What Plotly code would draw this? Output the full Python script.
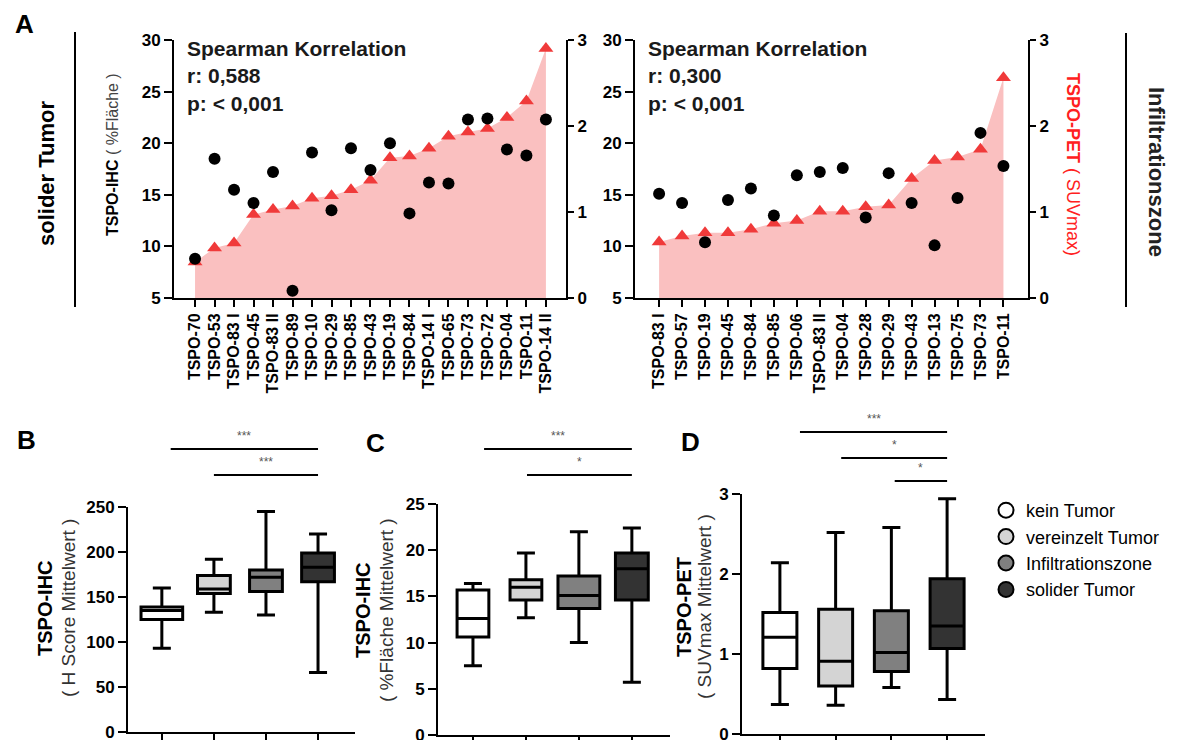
import plotly.graph_objects as go

W, H = 1178, 740
FONT = "Liberation Sans, Arial, sans-serif"

# ---------------- Panel A data ----------------
solid_labels = ["TSPO-70", "TSPO-53", "TSPO-83 I", "TSPO-45", "TSPO-83 II", "TSPO-89", "TSPO-10",
                "TSPO-29", "TSPO-85", "TSPO-43", "TSPO-19", "TSPO-84", "TSPO-14 I", "TSPO-65",
                "TSPO-73", "TSPO-72", "TSPO-04", "TSPO-11", "TSPO-14 II"]
solid_ihc = [8.8, 18.5, 15.5, 14.2, 17.2, 5.7, 19.1, 13.5, 19.5, 17.4, 20.0, 13.2, 16.2, 16.1,
             22.3, 22.4, 19.4, 18.8, 22.3]
solid_pet = [0.42, 0.58, 0.64, 0.97, 1.03, 1.07, 1.16, 1.19, 1.26, 1.37, 1.63, 1.65, 1.74, 1.88,
             1.93, 1.97, 2.10, 2.29, 2.90]

infil_labels = ["TSPO-83 I", "TSPO-57", "TSPO-19", "TSPO-45", "TSPO-84", "TSPO-85", "TSPO-06",
                "TSPO-83 II", "TSPO-04", "TSPO-28", "TSPO-29", "TSPO-43", "TSPO-13", "TSPO-75",
                "TSPO-73", "TSPO-11"]
infil_ihc = [15.1, 14.2, 10.4, 14.5, 15.6, 13.0, 16.9, 17.2, 17.6, 12.8, 17.1, 14.2, 10.1, 14.7,
             21.0, 17.8]
infil_pet = [0.65, 0.72, 0.76, 0.76, 0.80, 0.87, 0.90, 1.01, 1.01, 1.06, 1.08, 1.39, 1.60, 1.64,
             1.73, 2.56]

spearman_solid = ["Spearman Korrelation", "r: 0,588", "p: &lt; 0,001"]
spearman_infil = ["Spearman Korrelation", "r: 0,300", "p: &lt; 0,001"]

# ---------------- Panels B-D data ----------------
groups = ["kein Tumor", "vereinzelt Tumor", "Infiltrationszone", "solider Tumor"]
group_colors = ["#ffffff", "#d4d4d4", "#808080", "#333333"]

B_q1 = [125, 154, 156, 167]
B_med = [135, 159, 172, 183]
B_q3 = [139, 174, 180, 199]
B_low = [93, 133, 130, 66]
B_high = [160, 192, 245, 220]

C_q1 = [10.6, 14.6, 13.7, 14.6]
C_med = [12.6, 16.0, 15.1, 18.0]
C_q3 = [15.7, 16.8, 17.2, 19.7]
C_low = [7.5, 12.7, 10.0, 5.7]
C_high = [16.4, 19.7, 22.0, 22.4]

D_q1 = [0.82, 0.60, 0.78, 1.07]
D_med = [1.21, 0.91, 1.02, 1.35]
D_q3 = [1.52, 1.56, 1.54, 1.94]
D_low = [0.37, 0.36, 0.58, 0.43]
D_high = [2.14, 2.52, 2.58, 2.94]

# significance comparisons: (start group, end group, label)
B_sig = [(0.17, 3, "***"), (1.0, 3, "***")]
C_sig = [(0.21, 3, "***"), (1.02, 3, "*")]
D_sig = [(0.36, 3, "***"), (1.1, 3, "*"), (2.06, 3, "*")]


def px(x):
    return x / W


def py(y):
    return 1 - y / H


fig = go.Figure()

# ---- Panel A left (base axis y = PET, right side; overlay y2 = IHC, left side)
fig.add_trace(go.Scatter(x=solid_labels, y=solid_pet, mode="lines", fill="tozeroy",
                         line=dict(color="#fac0c0", width=0), fillcolor="#fac0c0",
                         xaxis="x", yaxis="y", showlegend=False, hoverinfo="skip"))
fig.add_trace(go.Scatter(x=solid_labels, y=solid_pet, mode="markers",
                         marker=dict(symbol="triangle-up", size=13, color="#f03a3a"),
                         xaxis="x", yaxis="y", showlegend=False))
fig.add_trace(go.Scatter(x=solid_labels, y=solid_ihc, mode="markers",
                         marker=dict(symbol="circle", size=12, color="#000000"),
                         xaxis="x", yaxis="y2", showlegend=False))

# ---- Panel A right
fig.add_trace(go.Scatter(x=infil_labels, y=infil_pet, mode="lines", fill="tozeroy",
                         line=dict(color="#fac0c0", width=0), fillcolor="#fac0c0",
                         xaxis="x2", yaxis="y3", showlegend=False, hoverinfo="skip"))
fig.add_trace(go.Scatter(x=infil_labels, y=infil_pet, mode="markers",
                         marker=dict(symbol="triangle-up", size=13, color="#f03a3a"),
                         xaxis="x2", yaxis="y3", showlegend=False))
fig.add_trace(go.Scatter(x=infil_labels, y=infil_ihc, mode="markers",
                         marker=dict(symbol="circle", size=12, color="#000000"),
                         xaxis="x2", yaxis="y4", showlegend=False))

# ---- Box panels
box_widths = {
    "B": [0.8, 0.63, 0.63, 0.63],
    "C": [0.6, 0.6, 0.79, 0.62],
    "D": [0.61, 0.61, 0.61, 0.61],
}
box_px_per_cat = {"B": 52.0, "C": 53.0, "D": 55.7}
panels = [
    ("B", "x3", "y5", B_q1, B_med, B_q3, B_low, B_high),
    ("C", "x4", "y6", C_q1, C_med, C_q3, C_low, C_high),
    ("D", "x5", "y7", D_q1, D_med, D_q3, D_low, D_high),
]
for key, xa, ya, q1, med, q3, lo, hi in panels:
    for i, g in enumerate(groups):
        wpx = box_widths[key][i] * box_px_per_cat[key]
        fig.add_trace(go.Box(
            x=[g], q1=[q1[i]], median=[med[i]], q3=[q3[i]],
            lowerfence=[lo[i]], upperfence=[hi[i]],
            fillcolor=group_colors[i], line=dict(color="#000000", width=3),
            width=box_widths[key][i], whiskerwidth=min(1.0, 18.0 / wpx),
            boxpoints=False, showlegend=False, xaxis=xa, yaxis=ya, name=g))

# legend entries
for i, g in enumerate(groups):
    fig.add_trace(go.Scatter(x=[None], y=[None], mode="markers", name=g,
                             marker=dict(symbol="circle", size=15, color=group_colors[i],
                                         line=dict(color="#000000", width=2)),
                             xaxis="x5", yaxis="y7", showlegend=True))

axis_common = dict(showline=True, linecolor="#000000", linewidth=2, ticks="outside",
                   tickcolor="#000000", tickwidth=2, showgrid=False, zeroline=False,
                   mirror=False, automargin=False, ticklabeloverflow="allow")
tickfont_bold = dict(family=FONT, size=17, color="#000000", weight="bold")
xtickfont = dict(family=FONT, size=16, color="#000000", weight="bold")

yA = [py(298), py(40)]

layout = dict(
    width=W, height=H, margin=dict(l=0, r=0, t=0, b=0, autoexpand=False),
    paper_bgcolor="#ffffff", plot_bgcolor="rgba(0,0,0,0)",
    font=dict(family=FONT, color="#000000"),
    boxmode="overlay",
    xaxis=dict(domain=[px(174), px(566)], anchor="y", type="category",
               categoryorder="array", categoryarray=solid_labels,
               tickmode="array", tickvals=solid_labels, ticktext=solid_labels,
               range=[-1.08, 19.03], tickangle=-90, ticklen=7,
               tickfont=xtickfont, **axis_common),
    yaxis=dict(domain=yA, anchor="x", side="right", range=[0, 3], tickvals=[0, 1, 2, 3],
               ticklen=6, tickfont=tickfont_bold, **axis_common),
    yaxis2=dict(overlaying="y", anchor="x", side="left", range=[5, 30],
                tickvals=[5, 10, 15, 20, 25, 30], ticklen=8, tickfont=tickfont_bold,
                **axis_common),
    xaxis2=dict(domain=[px(635), px(1028)], anchor="y3", type="category",
                categoryorder="array", categoryarray=infil_labels,
                tickmode="array", tickvals=infil_labels, ticktext=infil_labels,
                range=[-1.05, 16.07], tickangle=-90, ticklen=7,
                tickfont=xtickfont, **axis_common),
    yaxis3=dict(domain=yA, anchor="x2", side="right", range=[0, 3], tickvals=[0, 1, 2, 3],
                ticklen=6, tickfont=tickfont_bold, **axis_common),
    yaxis4=dict(overlaying="y3", anchor="x2", side="left", range=[5, 30],
                tickvals=[5, 10, 15, 20, 25, 30], ticklen=8, tickfont=tickfont_bold,
                **axis_common),
    xaxis3=dict(domain=[px(128), px(355)], anchor="y5", type="category",
                categoryorder="array", categoryarray=groups, range=[-0.65, 3.71],
                showticklabels=False, ticklen=10, **axis_common),
    yaxis5=dict(domain=[py(732), py(507)], anchor="x3", range=[0, 250],
                tickvals=[0, 50, 100, 150, 200, 250], ticklen=8, tickfont=tickfont_bold,
                **axis_common),
    xaxis4=dict(domain=[px(438), px(670)], anchor="y6", type="category",
                categoryorder="array", categoryarray=groups, range=[-0.66, 3.72],
                showticklabels=False, ticklen=10, **axis_common),
    yaxis6=dict(domain=[py(735), py(504)], anchor="x4", range=[0, 25],
                tickvals=[0, 5, 10, 15, 20, 25], ticklen=8, tickfont=tickfont_bold,
                **axis_common),
    xaxis5=dict(domain=[px(742), px(985)], anchor="y7", type="category",
                categoryorder="array", categoryarray=groups, range=[-0.68, 3.68],
                showticklabels=False, ticklen=10, **axis_common),
    yaxis7=dict(domain=[py(734), py(494)], anchor="x5", range=[0, 3],
                tickvals=[0, 1, 2, 3], ticklen=8, tickfont=tickfont_bold, **axis_common),
    legend=dict(x=px(986), y=py(492), xanchor="left", yanchor="top",
                font=dict(family=FONT, size=18, color="#000000"),
                bgcolor="rgba(0,0,0,0)", itemsizing="trace", tracegroupgap=0,
                itemwidth=30),
)
fig.update_layout(**layout)

ann = []
shapes = []


def text(x, y, t, size, bold=False, color="#000000", angle=0, xanchor="center",
         yanchor="middle", align="center"):
    ann.append(dict(x=px(x), y=py(y), xref="paper", yref="paper", showarrow=False,
                    text=f"<b>{t}</b>" if bold else t, textangle=angle,
                    font=dict(family=FONT, size=size, color=color),
                    xanchor=xanchor, yanchor=yanchor, align=align))


# panel letters
text(24, 24, "A", 26, bold=True)
text(26, 440, "B", 26, bold=True)
text(375, 443, "C", 26, bold=True)
text(690, 442, "D", 26, bold=True)

# Spearman texts
for x0, lines in [(185, spearman_solid), (646, spearman_infil)]:
    ann.append(dict(x=px(x0), y=py(35), xref="paper", yref="paper", showarrow=False,
                    text="<br>".join(f"<b>{l}</b>" for l in lines), align="left",
                    xanchor="left", yanchor="top",
                    font=dict(family=FONT, size=21, color="#1a1a1a")))

# Panel A axis titles
text(113, 155, "<b>TSPO-IHC</b> <span style='color:#444'>( %Fläche )</span>", 16, angle=-90)
text(1073, 164, "<b>TSPO-PET</b> ( SUVmax)", 18, color="#ff2020", angle=90)

# row labels
text(46, 174, "solider Tumor", 22, bold=True, angle=-90)
text(1157, 172, "Infiltrationszone", 22, bold=True, color="#222222", angle=90)
shapes.append(dict(type="line", xref="paper", yref="paper", x0=px(75), x1=px(75),
                   y0=py(32), y1=py(307), line=dict(color="#000000", width=2)))
shapes.append(dict(type="line", xref="paper", yref="paper", x0=px(1126), x1=px(1126),
                   y0=py(33), y1=py(307), line=dict(color="#000000", width=2)))

# box panel y titles
text(45, 608, "TSPO-IHC", 20, bold=True, angle=-90)
text(68, 608, "( H Score Mittelwert )", 19, color="#333333", angle=-90)
text(363, 610, "TSPO-IHC", 20, bold=True, angle=-90)
text(386, 610, "( %Fläche Mittelwert )", 19, color="#333333", angle=-90)
text(684, 607, "TSPO-PET", 20, bold=True, angle=-90)
text(704, 607, "( SUVmax Mittelwert )", 19, color="#333333", angle=-90)

# significance bars
sig_rows = [("x3", B_sig, [449, 475]), ("x4", C_sig, [449, 475]), ("x5", D_sig, [432, 458, 481])]
for xa, sigs, ys in sig_rows:
    for (a, b, lab), yy in zip(sigs, ys):
        shapes.append(dict(type="line", xref=xa, yref="paper", x0=a, x1=b,
                           y0=py(yy), y1=py(yy), line=dict(color="#000000", width=2)))
        ann.append(dict(x=(a + b) / 2, y=py(yy - 4), xref=xa, yref="paper",
                        showarrow=False, text=lab, xanchor="center", yanchor="bottom",
                        font=dict(family=FONT, size=12, color="#555555")))

fig.update_layout(annotations=ann, shapes=shapes)
fig.write_html("out.html", config={"displayModeBar": False},
               post_script="document.body.style.margin='0px';")
